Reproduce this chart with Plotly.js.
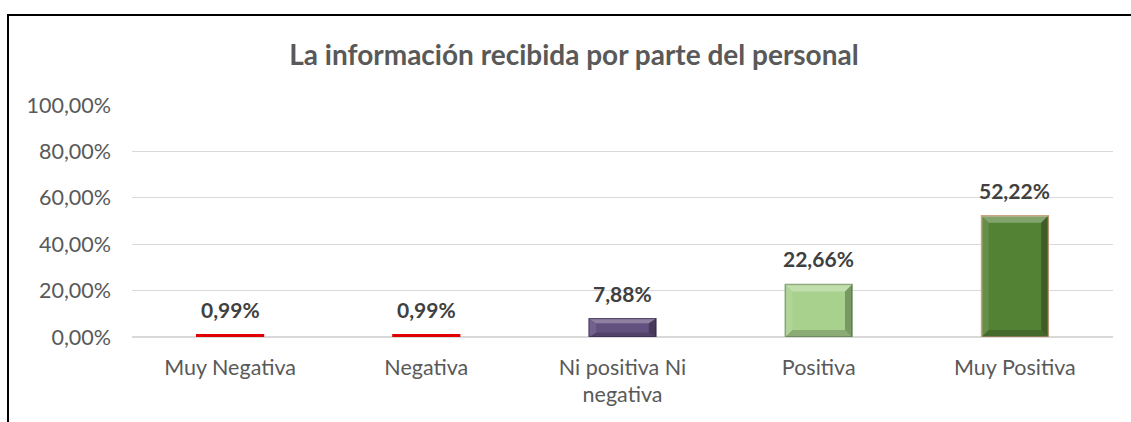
<!DOCTYPE html>
<html>
<head>
<meta charset="utf-8">
<script src="https://cdn.plot.ly/plotly-3.0.1.min.js"></script>
<style>
html,body{margin:0;padding:0;background:#fff;}
#wrap{position:relative;width:1131px;height:422px;overflow:hidden;}
#chart{width:1131px;height:422px;}
#frame{position:absolute;left:7px;top:14px;width:1200px;height:500px;border-left:2px solid #000;border-top:2px solid #000;pointer-events:none;}
</style>
</head>
<body>
<div id="wrap"><div id="chart"></div><div id="frame"></div></div>
<script>
const categories = ["Muy Negativa", "Negativa", "Ni positiva Ni<br>negativa", "Positiva", "Muy Positiva"];
const values = [0.0099, 0.0099, 0.0788, 0.2266, 0.5222];
const barColors = ["#E00000", "#E00000", "#64507F", "#A9D18E", "#548235"];
const barLineColors = ["#E00000", "#E00000", "#4A3A62", "#7F9F6B", "#C9A07A"];
const yTicks = [0, 0.2, 0.4, 0.6, 0.8, 1.0];

const FONT = "Lato, 'Open Sans', sans-serif";
const positions = categories.map((c, i) => i);
const BAR_W = 0.34;

const trace = {
  type: "bar",
  x: positions,
  y: values,
  width: BAR_W,
  marker: {color: barColors, line: {color: barLineColors, width: 1.5}},
  hoverinfo: "none"
};

// bevel shading derived from bar values (skipped for bars too thin to show it)
const shapes = [];
values.forEach((v, i) => {
  if (v < 0.03) return;
  const x0 = i - BAR_W / 2, x1 = i + BAR_W / 2;
  const dx = 0.036;
  const dy = Math.min(0.03, v / 4);
  const p = (pts) => "M " + pts.map(q => q[0] + "," + q[1]).join(" L ") + " Z";
  shapes.push({type: "path", xref: "x", yref: "y", layer: "above", line: {width: 0},
    fillcolor: "rgba(255,255,255,0.28)",
    path: p([[x0, v], [x1, v], [x1 - dx, v - dy], [x0 + dx, v - dy]])});
  shapes.push({type: "path", xref: "x", yref: "y", layer: "above", line: {width: 0},
    fillcolor: "rgba(255,255,255,0.10)",
    path: p([[x0, 0], [x0, v], [x0 + dx, v - dy], [x0 + dx, dy]])});
  shapes.push({type: "path", xref: "x", yref: "y", layer: "above", line: {width: 0},
    fillcolor: "rgba(0,0,0,0.28)",
    path: p([[x1, 0], [x1, v], [x1 - dx, v - dy], [x1 - dx, dy]])});
  shapes.push({type: "path", xref: "x", yref: "y", layer: "above", line: {width: 0},
    fillcolor: "rgba(0,0,0,0.18)",
    path: p([[x0, 0], [x1, 0], [x1 - dx, dy], [x0 + dx, dy]])});
});

const annotations = positions.map((x, i) => ({
  x: x, y: values[i], xref: "x", yref: "y",
  text: "<b>" + (values[i] * 100).toFixed(2).replace(".", ",") + "%</b>",
  showarrow: false, yanchor: "bottom", yshift: 11,
  font: {family: FONT, size: 21, color: "#404040"}
}));

const layout = {
  width: 1131, height: 422,
  margin: {l: 132, r: 18, t: 105, b: 85},
  separators: ",.",
  paper_bgcolor: "#ffffff",
  plot_bgcolor: "#ffffff",
  showlegend: false,
  title: {
    text: "<b>La información recibida por parte del personal</b>",
    x: 0.5075, xref: "container", xanchor: "center",
    y: 0.87, yref: "container", yanchor: "middle",
    font: {family: FONT, size: 28, color: "#595959"}
  },
  xaxis: {
    range: [-0.5, 4.5],
    tickvals: positions,
    ticktext: categories,
    showgrid: false, showline: false, zeroline: false,
    ticks: "", ticklabelstandoff: 15,
    tickfont: {family: FONT, size: 21.5, color: "#595959"}
  },
  yaxis: {
    range: [0, 1],
    tickvals: yTicks,
    tickformat: ".2%",
    showgrid: true, gridcolor: "#D9D9D9", gridwidth: 1.3,
    zeroline: true, zerolinecolor: "#D9D9D9", zerolinewidth: 1.3,
    showline: false, ticks: "", ticklabelstandoff: 20,
    tickfont: {family: FONT, size: 21.5, color: "#595959"}
  },
  shapes: shapes,
  annotations: annotations
};

Plotly.newPlot("chart", [trace], layout, {displayModeBar: false, staticPlot: true});
</script>
</body>
</html>
